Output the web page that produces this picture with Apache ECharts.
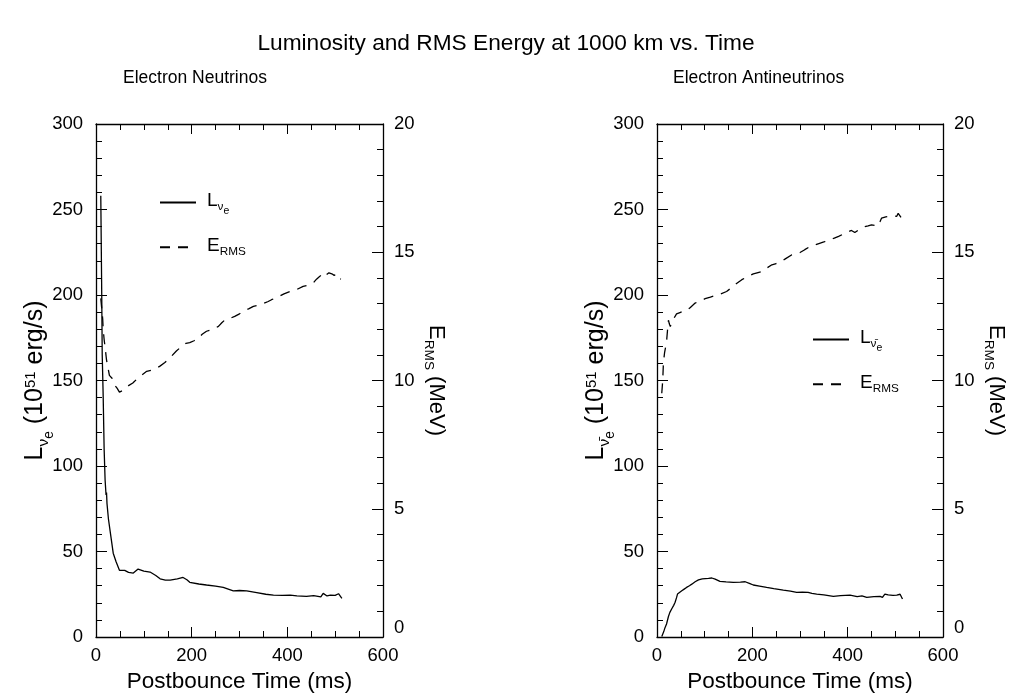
<!DOCTYPE html>
<html>
<head>
<meta charset="utf-8">
<script src="https://cdn.jsdelivr.net/npm/echarts@6.0.0/dist/echarts.min.js"></script>
<style>
  html, body { margin: 0; padding: 0; background: #fff; }
  #chart { width: 1012px; height: 698px; }
</style>
</head>
<body>
<div id="chart"></div>
<script>
// electron neutrinos: luminosity (10^51 erg/s) vs postbounce time (ms)
const nuLumTime = [10, 12, 13, 15, 17, 19, 21, 22, 23, 26, 31, 36, 42, 49, 53, 60, 68, 78, 88, 100, 113, 125, 134, 145, 155, 170, 182, 190, 196, 215, 231, 250, 266, 287, 300, 315, 336, 355, 371, 390, 406, 420, 440, 455, 470, 475, 483, 490, 500, 507, 511, 514];
const nuLum = [258, 200, 165, 141, 110, 92, 83, 84.5, 78, 69, 59, 49, 44, 39, 39.5, 39, 37.8, 37.4, 39.7, 38.5, 38, 36, 34, 33.3, 33.3, 34, 34.8, 33.5, 32, 31, 30.4, 29.8, 29, 27, 27.2, 27, 26, 25, 24.5, 24.3, 24.5, 24, 23.7, 24.2, 23.5, 25.5, 24, 24.5, 24.3, 25.3, 24.5, 22.6];

// electron neutrinos: RMS energy (MeV)
const nuErmsTime = [10, 12, 14, 15, 17, 19, 22, 25, 28, 33, 38, 40, 44, 49, 55, 62, 68, 77, 85, 95, 106, 115, 123, 133, 144, 158, 168, 179, 188, 196, 205, 214, 222, 231, 245, 256, 263, 270, 280, 290, 300, 308, 320, 329, 336, 350, 360, 367, 380, 393, 406, 420, 433, 444, 454, 461, 468, 475, 480, 487, 493, 498, 503, 506, 509, 512];
const nuErms = [13.2, 12.8, 12.4, 12.0, 11.6, 11.3, 10.8, 10.5, 10.2, 10.1, 9.95, 9.8, 9.7, 9.55, 9.6, 9.7, 9.8, 9.9, 10.05, 10.2, 10.36, 10.4, 10.45, 10.55, 10.7, 10.95, 11.15, 11.33, 11.45, 11.48, 11.55, 11.66, 11.8, 11.92, 12.0, 12.11, 12.25, 12.37, 12.42, 12.5, 12.6, 12.7, 12.8, 12.89, 12.92, 13.0, 13.08, 13.15, 13.25, 13.38, 13.47, 13.55, 13.67, 13.72, 13.8, 13.95, 14.06, 14.19, 14.1, 14.2, 14.16, 14.1, 14.15, 14.0, 14.05, 13.95];

// electron antineutrinos: luminosity
const anuLumTime = [10, 14, 17, 20, 24, 27, 31, 35, 38, 41, 43, 46, 52, 57, 62, 68, 73, 80, 87, 95, 108, 115, 122, 132, 145, 160, 175, 185, 195, 202, 215, 230, 245, 265, 280, 293, 305, 317, 325, 335, 350, 370, 385, 405, 420, 430, 440, 455, 468, 473, 478, 485, 495, 503, 510, 515];
const anuLum = [0.3, 3, 5.6, 7.6, 12, 14.4, 16.5, 18.5, 20.3, 23, 25.1, 25.5, 27, 28, 29, 30, 30.9, 32.3, 33.4, 34, 34.3, 34.5, 33.8, 32.5, 32.2, 31.9, 32.1, 32.3, 31.2, 30.4, 29.8, 29, 28.3, 27.4, 26.8, 26.1, 26.3, 26.1, 25.5, 25.1, 24.6, 23.8, 24.2, 24.5, 23.6, 24.0, 23.2, 23.6, 23.8, 23.2, 25.1, 24.6, 24.4, 24.5, 25.0, 22.2];

// electron antineutrinos: RMS energy
const anuErmsTime = [10, 12, 13.5, 16, 20, 22, 24, 26, 28, 30, 34, 41, 48, 55, 62, 70, 80, 90, 101, 112, 122, 134, 146, 155, 164, 178, 190, 202, 210, 220, 230, 241, 250, 258, 270, 283, 292, 300, 310, 321, 330, 338, 350, 363, 372, 381, 392, 402, 408, 415, 425, 436, 443, 450, 457, 464, 468, 471, 480, 489, 496, 503, 506, 510, 513];
const anuErms = [9.5, 10.0, 10.7, 11.1, 11.5, 11.95, 12.35, 12.2, 12.1, 12.25, 12.3, 12.6, 12.65, 12.7, 12.72, 12.85, 13.02, 13.1, 13.19, 13.25, 13.31, 13.38, 13.47, 13.6, 13.74, 13.93, 14.05, 14.16, 14.2, 14.25, 14.38, 14.51, 14.56, 14.6, 14.75, 14.9, 14.95, 14.99, 15.1, 15.22, 15.28, 15.33, 15.4, 15.49, 15.55, 15.62, 15.72, 15.81, 15.85, 15.77, 15.9, 16.0, 16.03, 16.07, 16.05, 16.03, 16.2, 16.33, 16.38, 16.4, 16.42, 16.4, 16.52, 16.5, 16.33];

const timeTicks = { min: 0, max: 600, interval: 200 };
const lumTicks = { min: 0, max: 300, interval: 50 };
const ermsTicks = { min: 0, max: 20, interval: 5 };

const FONT = "Liberation Sans, Arial, sans-serif";
const zip = (xs, ys) => xs.map((x, i) => [x, ys[i]]);

const chart = echarts.init(document.getElementById("chart"));

const lineAxis = { show: true, onZero: false, lineStyle: { color: "#000", width: 1.3 } };
const labelStyle = { color: "#000", fontSize: 18.5, fontFamily: FONT };

// rich text pieces for sub/superscripts, all top-aligned and shifted with padding
function richSet(size) {
  return {
    b: { fontSize: size, fontFamily: FONT, color: "#000", verticalAlign: "top", lineHeight: size + 4 },
    s: { fontSize: size * 0.62, fontFamily: FONT, color: "#000", verticalAlign: "top",
         lineHeight: size * 0.7, padding: [size * 0.52, 0, 0, 0] },
    ss: { fontSize: size * 0.55, fontFamily: FONT, color: "#000", verticalAlign: "top",
          lineHeight: size * 0.6, padding: [size * 0.78, 0, 0, 0] },
    sup: { fontSize: size * 0.6, fontFamily: FONT, color: "#000", verticalAlign: "top",
           lineHeight: size * 0.65, padding: [0, 0, 0, 0] },
  };
}

function xAxes(gridIndex) {
  return [
    {
      type: "value", gridIndex, position: "bottom", ...timeTicks,
      name: "Postbounce Time (ms)", nameLocation: "middle", nameGap: 33,
      nameTextStyle: { color: "#000", fontSize: 22.5, fontFamily: FONT },
      axisLine: lineAxis,
      axisTick: { inside: true, length: 10, lineStyle: { color: "#000" } },
      minorTick: { show: true, splitNumber: 4, length: 6, lineStyle: { color: "#000" } },
      axisLabel: { ...labelStyle, margin: 9 },
      splitLine: { show: false },
    },
    {
      type: "value", gridIndex, position: "top", ...timeTicks,
      axisLine: lineAxis,
      axisTick: { inside: true, length: 10, lineStyle: { color: "#000" } },
      minorTick: { show: true, splitNumber: 4, length: 6, lineStyle: { color: "#000" } },
      axisLabel: { show: false },
      splitLine: { show: false },
    },
  ];
}

function yAxes(gridIndex, lumName) {
  return [
    {
      type: "value", gridIndex, position: "left", ...lumTicks,
      name: lumName, nameLocation: "middle", nameGap: 44, nameRotate: 90, nameMoveOverlap: false,
      nameTextStyle: { color: "#000", fontFamily: FONT, rich: richSet(25) },
      axisLine: lineAxis,
      axisTick: { inside: true, length: 11, lineStyle: { color: "#000" } },
      minorTick: { show: true, splitNumber: 5, length: 6, lineStyle: { color: "#000" } },
      axisLabel: { ...labelStyle, margin: 13 },
      splitLine: { show: false },
    },
    {
      type: "value", gridIndex, position: "right", ...ermsTicks,
      name: "{b|E}{s|RMS}{b| (MeV)}", nameLocation: "middle", nameGap: 38, nameRotate: -90, nameMoveOverlap: false,
      nameTextStyle: { color: "#000", fontFamily: FONT, rich: richSet(22) },
      axisLine: lineAxis,
      axisTick: { inside: true, length: 11, lineStyle: { color: "#000" } },
      minorTick: { show: true, splitNumber: 5, length: 6, lineStyle: { color: "#000" } },
      axisLabel: { ...labelStyle, margin: 11, verticalAlignMinLabel: "bottom" },
      splitLine: { show: false },
    },
  ];
}

const legendNames = {
  Lnu: "{b|L}{s|ν}{ss|e}",
  Enu: "{b|E}{s|RMS}",
  Lanu: "{b|L}{s|ν̄}{ss|e}",
  Eanu: "{b|E}{s|RMS}",
};
const legendBase = {
  orient: "vertical", itemWidth: 36, itemHeight: 14, itemGap: 20,
  itemStyle: { opacity: 0 },
  formatter: (n) => legendNames[n],
  textStyle: { rich: richSet(19), padding: [0, 0, 0, 6] },
};

const solid = { color: "#000", width: 1.3, type: "solid" };
const dashed = { color: "#000", width: 1.3, type: [10, 8] };

chart.setOption({
  animation: false,
  backgroundColor: "#fff",
  title: [
    { text: "Luminosity and RMS Energy at 1000 km vs. Time", left: "center", top: 27,
      textStyle: { fontSize: 22.7, fontWeight: "normal", color: "#000", fontFamily: FONT } },
    { text: "Electron Neutrinos", left: 118, top: 64,
      textStyle: { fontSize: 17.5, fontWeight: "normal", color: "#000", fontFamily: FONT } },
    { text: "Electron Antineutrinos", left: 668, top: 64,
      textStyle: { fontSize: 17.5, fontWeight: "normal", color: "#000", fontFamily: FONT } },
  ],
  grid: [
    { left: 96, top: 124, width: 287, height: 514 },
    { left: 657, top: 124, width: 286, height: 514 },
  ],
  legend: [
    { ...legendBase, data: ["Lnu", "Enu"], left: 154, top: 186 },
    { ...legendBase, data: ["Lanu", "Eanu"], left: 807, top: 323 },
  ],
  xAxis: [...xAxes(0), ...xAxes(1)],
  yAxis: [
    ...yAxes(0, "{b|L}{s|ν}{ss|e}{b| (10}{sup|51}{b| erg/s)}"),
    ...yAxes(1, "{b|L}{s|ν̄}{ss|e}{b| (10}{sup|51}{b| erg/s)}"),
  ],
  series: [
    { name: "Lnu", type: "line", xAxisIndex: 0, yAxisIndex: 0, data: zip(nuLumTime, nuLum),
      symbol: "none", lineStyle: solid, itemStyle: { color: "#000" } },
    { name: "Enu", type: "line", xAxisIndex: 0, yAxisIndex: 1, data: zip(nuErmsTime, nuErms),
      symbol: "none", lineStyle: dashed, itemStyle: { color: "#000" } },
    { name: "Lanu", type: "line", xAxisIndex: 2, yAxisIndex: 2, data: zip(anuLumTime, anuLum),
      symbol: "none", lineStyle: solid, itemStyle: { color: "#000" } },
    { name: "Eanu", type: "line", xAxisIndex: 2, yAxisIndex: 3, data: zip(anuErmsTime, anuErms),
      symbol: "none", lineStyle: dashed, itemStyle: { color: "#000" } },
  ],
});
</script>
</body>
</html>
